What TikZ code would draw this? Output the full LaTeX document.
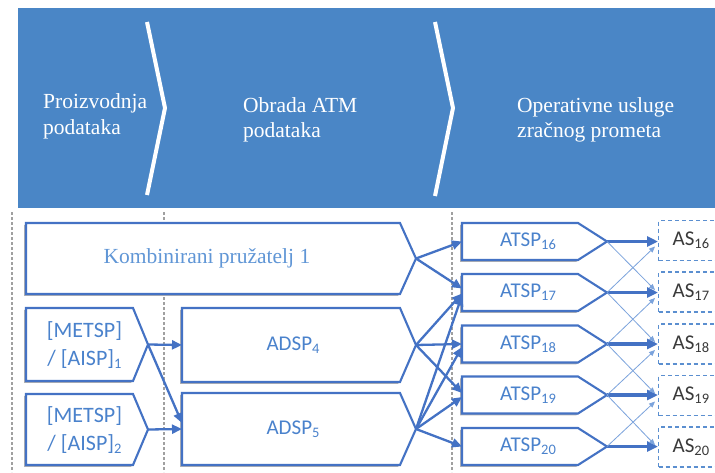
\documentclass[tikz,border=0pt]{standalone}
\usepackage{fontspec}
\setmainfont{Liberation Serif}
\newfontfamily\calib{Carlito}
\usetikzlibrary{arrows.meta,calc,shadows}
\definecolor{hdr}{HTML}{4A86C6}
\definecolor{ln}{HTML}{4472C4}
\definecolor{txtblue}{HTML}{4A82CC}
\definecolor{ktxt}{HTML}{6096D6}
\definecolor{thinblue}{HTML}{7BA3DC}
\definecolor{dashblue}{HTML}{5B8FD0}
\definecolor{sepgray}{HTML}{A0A0A0}
\definecolor{astxt}{HTML}{3A3A3A}
\newcommand\sbx[1]{\raisebox{-3.2pt}{\fontsize{14.5}{14.5}\selectfont #1}}
\tikzset{
  boxline/.style={draw=ln, line width=2.1pt, fill=white, line join=miter,
    drop shadow={shadow xshift=-1.8pt, shadow yshift=-1.8pt, opacity=0.3, fill=black}},
  conn/.style={draw=ln, line width=2.3pt, -{Triangle[length=10pt,width=9pt]}},
  strongarrow/.style={draw=ln, line width=3.4pt, -{Triangle[length=11pt,width=10pt]}},
  thinarrow/.style={draw=thinblue, line width=0.8pt, -{Triangle[length=6pt,width=5pt]}},
  sepline/.style={draw=sepgray, line width=1.2pt, dash pattern=on 3pt off 2pt},
  chev/.style={draw=white, line width=4pt},
  hdrtxt/.style={text=white, font=\fontsize{21.5}{26}\selectfont, inner sep=0pt, anchor=base west},
  sanstxt/.style={text=txtblue, font=\calib\fontsize{21}{24}\selectfont, inner sep=0pt},
  mettxt/.style={text=txtblue, font=\calib\fontsize{22}{28.5}\selectfont, inner sep=0pt, align=center},
  asbox/.style={draw=dashblue, line width=1.2pt, dash pattern=on 4pt off 3pt, fill=white,
    anchor=west, minimum height=40pt, text width=60pt, inner xsep=14pt, inner ysep=0pt, align=left,
    text=astxt, font=\calib\fontsize{21}{24}\selectfont},
}
\newcommand\chevbox[6]{%
  \path[boxline] (#2,#3) -- (#4,#3) -- (#5,{(#3+#6)/2}) -- (#4,#6) -- (#2,#6) -- cycle;
  \coordinate (#1-tip) at (#5,{(#3+#6)/2});
  \coordinate (#1-in) at (#2,{(#3+#6)/2});
}
\begin{document}
\begin{tikzpicture}[x=1pt,y=-1pt]
\useasboundingbox (0,0) rectangle (715,472);
\clip (0,0) rectangle (715,472);
\fill[white] (0,0) rectangle (715,472);
% header
\fill[hdr] (18,8) rectangle (715,208);
\draw[chev] (147,22) -- (165,108) -- (147,195);
\draw[chev] (435,22) -- (453,108) -- (435,196);
\node[hdrtxt] (h1a) at (43,108) {Proizvodnja};
\node[hdrtxt] (h1b) at (43,134) {podataka};
\node[hdrtxt] (h2a) at (243,112) {Obrada ATM};
\node[hdrtxt] (h2b) at (243,137) {podataka};
\node[hdrtxt] (h3a) at (517,112) {Operativne usluge};
\node[hdrtxt] (h3b) at (517,137) {zračnog prometa};
% separators
\draw[sepline] (12,212) -- (12,472);
\draw[sepline] (164,212) -- (164,472);
\draw[sepline] (452,212) -- (452,472);
% boxes
\chevbox{komb}{26}{223}{400}{416}{294}
\chevbox{met1}{26}{308}{133}{148}{381}
\chevbox{met2}{26}{394}{133}{148}{465}
\chevbox{ad4}{182}{308}{400}{416}{382}
\chevbox{ad5}{182}{393}{400}{416}{465}
\chevbox{a16}{462}{223}{578}{607}{260}
\chevbox{a17}{462}{274}{578}{607}{311}
\chevbox{a18}{462}{325.5}{578}{607}{362.5}
\chevbox{a19}{462}{376.5}{578}{607}{413.5}
\chevbox{a20}{462}{428}{578}{607}{465}
\node[text=ktxt, font=\fontsize{21.5}{26}\selectfont, inner sep=0pt] (kt) at (207,258) {Kombinirani pružatelj 1};
\node[mettxt] (m1t) at (84.5,345) {[METSP]\\/ [AISP]\sbx{1}};
\node[mettxt] (m2t) at (84.5,430) {[METSP]\\/ [AISP]\sbx{2}};
\node[sanstxt] (ad4t) at (293,345) {ADSP\sbx{4}};
\node[sanstxt] (ad5t) at (293,429) {ADSP\sbx{5}};
\node[sanstxt] (a16t) at (528,241.5) {ATSP\sbx{16}};
\node[sanstxt] (a17t) at (528,292.5) {ATSP\sbx{17}};
\node[sanstxt] (a18t) at (528,344) {ATSP\sbx{18}};
\node[sanstxt] (a19t) at (528,395) {ATSP\sbx{19}};
\node[sanstxt] (a20t) at (528,446.5) {ATSP\sbx{20}};
% AS boxes
\node[asbox] (s16) at (658,240.5) {AS\sbx{16}};
\node[asbox] (s17) at (658,292) {AS\sbx{17}};
\node[asbox] (s18) at (658,344) {AS\sbx{18}};
\node[asbox] (s19) at (658,395.5) {AS\sbx{19}};
\node[asbox] (s20) at (658,447) {AS\sbx{20}};
% connectors
\draw[conn] (met1-tip) -- (ad4-in);
\draw[conn] (met1-tip) -- ($(ad5-in)+(0,-6)$);
\draw[conn] (met2-tip) -- (ad5-in);
\draw[conn] (komb-tip) -- (a16-in);
\draw[conn] (komb-tip) -- ($(a17-in)+(0,-4)$);
\draw[conn] (ad4-tip) -- ($(a17-in)+(0,1)$);
\draw[conn] (ad5-tip) -- ($(a17-in)+(0,3)$);
\draw[conn] (ad4-tip) -- (a18-in);
\draw[conn] (ad5-tip) -- ($(a18-in)+(0,3)$);
\draw[conn] (ad4-tip) -- ($(a19-in)+(0,-2)$);
\draw[conn] (ad5-tip) -- ($(a19-in)+(0,2)$);
\draw[conn] (ad5-tip) -- (a20-in);
% ATSP -> AS
\draw[strongarrow] (a16-tip) -- (a16-tip -| s16.west);
\draw[strongarrow] (a17-tip) -- (a17-tip -| s17.west);
\draw[strongarrow] (a18-tip) -- (a18-tip -| s18.west);
\draw[strongarrow] (a19-tip) -- (a19-tip -| s19.west);
\draw[strongarrow] (a20-tip) -- (a20-tip -| s20.west);
\draw[thinarrow] (a16-tip) -- ($(s17.west)+(-3,-2)$);
\draw[thinarrow] (a17-tip) -- ($(s16.west)+(-3,6)$);
\draw[thinarrow] (a17-tip) -- ($(s18.west)+(-3,-2)$);
\draw[thinarrow] (a18-tip) -- ($(s17.west)+(-3,6)$);
\draw[thinarrow] (a18-tip) -- ($(s19.west)+(-3,-2)$);
\draw[thinarrow] (a19-tip) -- ($(s18.west)+(-3,6)$);
\draw[thinarrow] (a19-tip) -- ($(s20.west)+(-3,-2)$);
\draw[thinarrow] (a20-tip) -- ($(s19.west)+(-3,6)$);
\end{tikzpicture}
\end{document}
